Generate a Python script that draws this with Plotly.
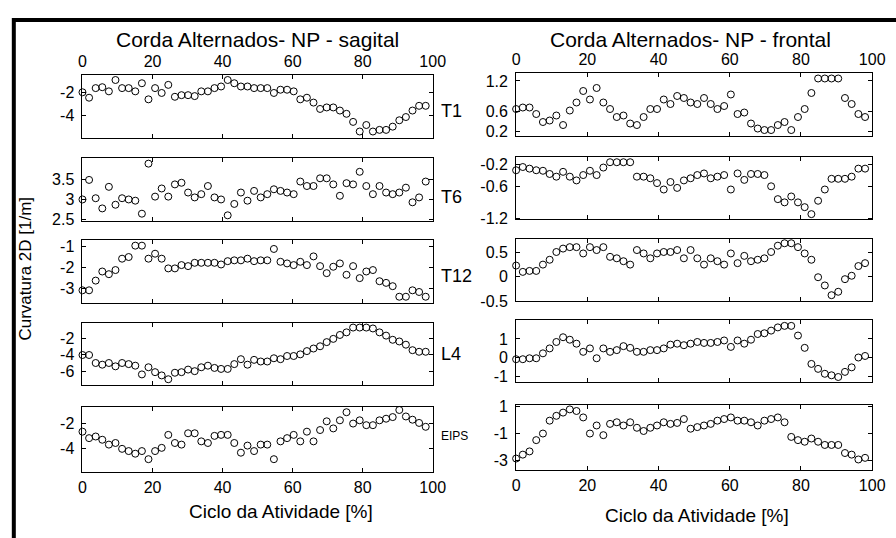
import plotly.graph_objects as go

# ---------------- data ----------------
cycle_pct = [round(i * 98 / 52, 3) for i in range(53)]

sag_T1 = [-2.0, -2.47, -1.64, -1.56, -1.92, -0.94, -1.64, -1.64, -1.92, -1.22,
          -2.61, -1.64, -2.06, -1.36, -2.39, -2.25, -2.25, -2.33, -1.92, -1.92,
          -1.64, -1.5, -0.94, -1.22, -1.5, -1.5, -1.64, -1.64, -1.64, -2.06,
          -1.78, -1.78, -1.92, -2.61, -2.47, -2.89, -3.44, -3.31, -3.31, -3.58,
          -3.86, -4.56, -5.39, -4.83, -5.39, -5.25, -5.25, -4.97, -4.42, -4.14,
          -3.58, -3.17, -3.17]
sag_T6 = [3.0, 3.48, 3.03, 2.78, 3.31, 2.87, 3.03, 3.0, 2.97, 2.65,
          3.88, 3.07, 3.27, 3.07, 3.37, 3.41, 3.17, 3.05, 3.13, 3.33,
          3.05, 3.0, 2.61, 2.89, 3.17, 2.97, 3.21, 3.05, 3.13, 3.25,
          3.21, 3.17, 3.13, 3.44, 3.33, 3.33, 3.52, 3.52, 3.37, 3.09,
          3.40, 3.37, 3.68, 3.33, 3.13, 3.33, 3.17, 3.13, 3.17, 3.29,
          2.93, 3.05, 3.44]
sag_T12 = [-3.11, -3.11, -2.64, -2.2, -2.33, -2.13, -1.58, -1.5, -0.95, -0.95,
           -1.58, -1.34, -1.58, -2.05, -2.05, -1.89, -1.94, -1.78, -1.78, -1.78,
           -1.78, -1.86, -1.7, -1.66, -1.66, -1.58, -1.7, -1.66, -1.66, -1.11,
           -1.73, -1.81, -1.89, -1.73, -1.89, -1.47, -1.94, -2.28, -1.97, -1.81,
           -2.36, -1.94, -2.52, -2.2, -2.13, -2.67, -2.75, -2.91, -3.42, -3.42,
           -3.11, -3.19, -3.42]
sag_L4 = [-4.04, -4.04, -5.0, -5.2, -5.0, -5.4, -5.0, -5.13, -5.32, -6.37,
          -5.51, -6.1, -6.49, -6.95, -6.17, -6.1, -5.79, -5.98, -5.51, -5.32,
          -5.59, -5.71, -5.71, -5.13, -4.54, -5.2, -4.62, -4.82, -4.82, -4.43,
          -4.54, -4.16, -4.16, -3.96, -3.57, -3.26, -2.99, -2.49, -2.1, -1.63,
          -1.32, -0.74, -0.74, -0.74, -0.85, -1.32, -1.71, -2.21, -2.41, -2.8,
          -3.46, -3.65, -3.65]
sag_EIPS = [-2.65, -3.17, -3.04, -3.3, -3.69, -3.56, -4.03, -4.21, -4.42, -4.21,
            -4.86, -4.21, -3.95, -2.91, -3.56, -3.69, -2.78, -2.78, -3.43, -3.56,
            -2.99, -2.91, -2.91, -3.56, -4.34, -3.77, -4.21, -3.69, -3.69, -4.86,
            -3.43, -3.17, -2.91, -3.43, -2.65, -3.43, -2.52, -1.82, -2.39, -1.74,
            -1.09, -2.0, -1.74, -2.13, -2.13, -1.74, -1.61, -1.48, -0.91, -1.43,
            -1.69, -1.95, -2.26]

fro_T1 = [0.64, 0.67, 0.67, 0.54, 0.38, 0.41, 0.51, 0.32, 0.61, 0.77,
          1.0, 0.83, 1.06, 0.77, 0.64, 0.48, 0.51, 0.35, 0.32, 0.48,
          0.64, 0.64, 0.83, 0.74, 0.9, 0.86, 0.77, 0.74, 0.86, 0.74,
          0.64, 0.7, 0.93, 0.54, 0.57, 0.35, 0.25, 0.22, 0.22, 0.32,
          0.38, 0.22, 0.48, 0.64, 0.96, 1.25, 1.25, 1.25, 1.25, 0.86,
          0.74, 0.54, 0.48]
fro_T6 = [-0.3, -0.24, -0.27, -0.3, -0.31, -0.37, -0.42, -0.33, -0.42, -0.49,
          -0.39, -0.31, -0.39, -0.25, -0.15, -0.15, -0.15, -0.15, -0.42, -0.42,
          -0.45, -0.54, -0.66, -0.52, -0.63, -0.49, -0.45, -0.39, -0.36, -0.45,
          -0.42, -0.39, -0.66, -0.36, -0.48, -0.37, -0.37, -0.39, -0.6, -0.84,
          -0.9, -0.79, -0.9, -0.99, -1.12, -0.87, -0.66, -0.46, -0.46, -0.46,
          -0.42, -0.27, -0.27]
fro_T12 = [0.23, 0.1, 0.12, 0.12, 0.25, 0.35, 0.51, 0.58, 0.61, 0.61,
           0.48, 0.61, 0.55, 0.61, 0.41, 0.38, 0.32, 0.25, 0.55, 0.48,
           0.38, 0.48, 0.51, 0.51, 0.55, 0.38, 0.55, 0.38, 0.25, 0.38,
           0.32, 0.25, 0.48, 0.28, 0.43, 0.32, 0.35, 0.38, 0.51, 0.64,
           0.69, 0.69, 0.61, 0.48, 0.35, -0.01, -0.18, -0.38, -0.31, -0.05,
           0.02, 0.22, 0.28]
fro_L4 = [-0.07, -0.07, -0.02, -0.02, 0.24, 0.5, 0.84, 1.09, 0.96, 0.75,
          0.32, 0.5, -0.02, 0.5, 0.32, 0.41, 0.62, 0.53, 0.32, 0.32,
          0.41, 0.41, 0.5, 0.7, 0.75, 0.67, 0.75, 0.84, 0.79, 0.79,
          0.84, 0.92, 0.58, 0.92, 0.75, 0.96, 1.26, 1.3, 1.44, 1.61,
          1.69, 1.69, 1.18, 0.53, -0.32, -0.58, -0.84, -0.92, -1.01, -0.74,
          -0.5, 0.02, 0.1]
fro_EIPS = [-2.88, -2.59, -2.35, -1.51, -1.02, -0.06, 0.3, 0.54, 0.78, 0.66,
            0.18, -1.02, -0.42, -1.14, -0.3, -0.18, -0.42, -0.18, -0.59, -0.83,
            -0.59, -0.42, -0.18, -0.3, -0.23, 0.06, -0.66, -0.54, -0.42, -0.3,
            -0.06, 0.06, 0.18, -0.06, -0.06, -0.18, -0.42, -0.06, 0.06, 0.18,
            -0.18, -1.27, -1.51, -1.63, -1.39, -1.63, -1.87, -1.87, -1.87, -2.47,
            -2.59, -2.95, -2.83]

segment_labels = ["T1", "T6", "T12", "L4", "EIPS"]
col_titles = ["Corda Alternados- NP - sagital", "Corda Alternados- NP - frontal"]
x_title = "Ciclo da Atividade [%]"
y_title = "Curvatura 2D [1/m]"
x_ticks = [0, 20, 40, 60, 80, 100]

sagital = [sag_T1, sag_T6, sag_T12, sag_L4, sag_EIPS]
frontal = [fro_T1, fro_T6, fro_T12, fro_L4, fro_EIPS]

sag_ticks = [[-4, -2], [2.5, 3, 3.5], [-3, -2, -1], [-6, -4, -2], [-4, -2]]
sag_ticktext = [["-4", "-2"], ["2.5", "3", "3.5"], ["-3", "-2", "-1"], ["-6", "-4", "-2"], ["-4", "-2"]]
sag_ranges = [[-5.95, -0.5], [2.46, 4.01], [-3.72, -0.67], [-7.69, -0.23], [-5.87, -0.65]]

fro_ticks = [[0.2, 0.6, 1.2], [-1.2, -0.6, -0.2], [-0.5, 0, 0.5], [-1, 0, 1], [-3, -1, 1]]
fro_ticktext = [["0.2", "0.6", "1.2"], ["-1.2", "-0.6", "-0.2"], ["-0.5", "0", "0.5"], ["-1", "0", "1"], ["-3", "-1", "1"]]
fro_ranges = [[0.10, 1.36], [-1.22, -0.06], [-0.5, 0.78], [-1.3, 1.98], [-3.72, 1.12]]

# ---------------- layout geometry (pixels) ----------------
W, H = 896, 538
col_x = [(80, 437), (522, 885)]
row_y = [[(70, 135), (156, 221), (240, 305), (326, 390), (412, 479)],
         [(68, 133), (155, 219), (239, 303), (323, 387), (410, 477)]]

FONT = "Liberation Sans, Arial, Helvetica, sans-serif"
TICK_FONT = dict(size=16, family=FONT, color="black")

fig = go.Figure()
layout = dict(
    width=W, height=H, margin=dict(l=0, r=0, t=0, b=0),
    paper_bgcolor="white", plot_bgcolor="white", showlegend=False,
    font=dict(family=FONT, color="black", size=16),
)

for c in range(2):
    data_col = sagital if c == 0 else frontal
    for r in range(5):
        n = c * 5 + r + 1
        xa = "x" if n == 1 else f"x{n}"
        ya = "y" if n == 1 else f"y{n}"
        fig.add_trace(go.Scatter(
            x=cycle_pct, y=data_col[r], mode="markers", xaxis=xa, yaxis=ya,
            cliponaxis=False,
            marker=dict(symbol="circle-open", size=7, color="black",
                        line=dict(width=1, color="black")),
        ))
        x0, x1 = col_x[c]
        y0, y1 = row_y[c][r]
        common = dict(showline=True, linecolor="black", linewidth=1, mirror="ticks",
                      ticks="inside", ticklen=4, tickcolor="black", tickwidth=1,
                      showgrid=False, zeroline=False, tickfont=TICK_FONT)
        xd = dict(common, domain=[x0 / W, x1 / W], range=[0, 100], tickvals=x_ticks,
                  anchor=ya)
        if r == 0:
            xd["side"] = "top"
            xd["showticklabels"] = True
            xd["ticklabelstandoff"] = 1
        elif r == 4:
            xd["showticklabels"] = True
            xd["ticklabelstandoff"] = 1
        else:
            xd["showticklabels"] = False
        yd = dict(common, domain=[1 - y1 / H, 1 - y0 / H], anchor=xa,
                  range=(sag_ranges if c == 0 else fro_ranges)[r],
                  tickvals=(sag_ticks if c == 0 else fro_ticks)[r],
                  ticktext=(sag_ticktext if c == 0 else fro_ticktext)[r],
                  ticklabelstandoff=4)
        layout["xaxis" if n == 1 else f"xaxis{n}"] = xd
        layout["yaxis" if n == 1 else f"yaxis{n}"] = yd

annotations = []
# column titles
for cx, t in zip([258, 700], col_titles):
    annotations.append(dict(text=t, x=cx / W, y=1 - 33 / H, xref="paper", yref="paper",
                            showarrow=False, xanchor="center", yanchor="middle",
                            font=dict(size=21, family=FONT, color="black")))
# x titles
for cx, cy in zip([282, 706], [520, 524]):
    annotations.append(dict(text=x_title, x=cx / W, y=1 - cy / H, xref="paper", yref="paper",
                            showarrow=False, xanchor="center", yanchor="middle",
                            font=dict(size=19, family=FONT, color="black")))
# y title
annotations.append(dict(text=y_title, x=22 / W, y=1 - 270 / H, xref="paper", yref="paper",
                        showarrow=False, xanchor="center", yanchor="middle", textangle=-90,
                        font=dict(size=17, family=FONT, color="black")))
# segment labels
seg_y = [107, 196, 277, 358, 442]
seg_size = [18, 18, 18, 18, 12]
for lab, sy, fs in zip(segment_labels, seg_y, seg_size):
    annotations.append(dict(text=lab, x=443 / W, y=1 - sy / H, xref="paper", yref="paper",
                            showarrow=False, xanchor="left", yanchor="middle",
                            font=dict(size=fs, family=FONT, color="black")))
layout["annotations"] = annotations

# outer black frame (top and left edges visible)
layout["shapes"] = [dict(type="rect", xref="paper", yref="paper",
                         x0=10 / W, x1=1.05, y0=-0.05, y1=1 - 13.5 / H,
                         line=dict(color="black", width=4), fillcolor="rgba(0,0,0,0)")]

fig.update_layout(**layout)
fig.write_html("out.html")
